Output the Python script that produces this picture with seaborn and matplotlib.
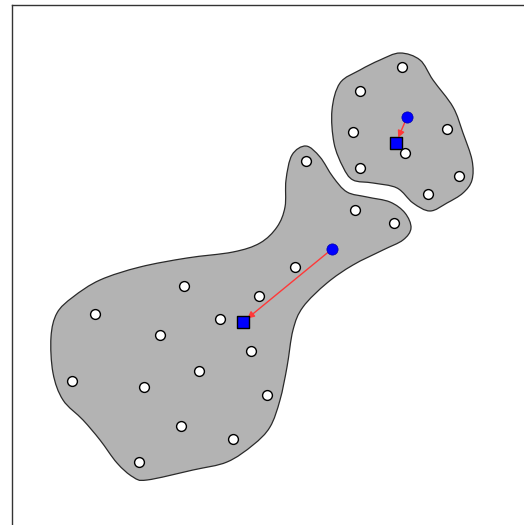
import numpy as np
import pandas as pd
import matplotlib
matplotlib.use("Agg")
import matplotlib.pyplot as plt
from matplotlib.path import Path
from matplotlib.patches import PathPatch
import seaborn as sns

# Punti bianchi (coordinate immagine, y verso il basso)
small_x = [402.3, 360.0, 352.7, 446.7, 404.7, 360.0, 459.3, 428.3]
small_y = [67.3, 90.7, 132.0, 129.3, 153.3, 168.3, 176.0, 194.3]
large_x = [306.0, 355.3, 394.3, 295.3, 183.7, 259.0, 95.3, 219.7, 160.3,
           251.3, 199.0, 71.7, 144.3, 266.7, 180.7, 233.0, 139.3]
large_y = [161.0, 210.3, 223.0, 267.0, 285.7, 295.7, 314.0, 319.3, 335.0,
           350.7, 371.0, 381.3, 387.0, 395.0, 425.7, 439.0, 462.3]

# Centri: cerchio blu (vecchio) e quadrato blu (nuovo)
old_x = [407.3, 331.7]
old_y = [116.7, 249.3]
new_x = [396.0, 243.0]
new_y = [142.7, 322.0]

# Contorni delle regioni
small_outline_x = [400, 420, 433, 453, 463, 472, 472, 463, 447, 430, 413, 397,
                   373, 353, 343, 334, 332, 340, 360, 380]
small_outline_y = [53, 60, 80, 107, 133, 160, 180, 193, 203, 211, 203, 188,
                   183, 180, 167, 143, 110, 83, 70, 60]
large_outline_x = [306, 320, 333, 347, 367, 390, 405, 411, 403, 383, 353, 327,
                   303, 293, 287, 280, 270, 253, 227, 193, 147, 133, 117, 100,
                   83, 63, 53, 51, 57, 73, 100, 140, 187, 233, 260, 277, 285,
                   286, 292]
large_outline_y = [146, 157, 177, 192, 197, 202, 213, 228, 240, 250, 265, 283,
                   307, 330, 367, 400, 427, 445, 462, 470, 480, 477, 463, 440,
                   420, 400, 373, 337, 313, 297, 280, 267, 258, 252, 243, 227,
                   207, 180, 155]


def smooth_closed_path(xs, ys):
    pts = np.column_stack([xs, ys]).astype(float)
    n = len(pts)
    verts = [pts[0]]
    codes = [Path.MOVETO]
    for i in range(n):
        p0, p1, p2, p3 = pts[i - 1], pts[i], pts[(i + 1) % n], pts[(i + 2) % n]
        verts += [p1 + (p2 - p0) / 6, p2 - (p3 - p1) / 6, p2]
        codes += [Path.CURVE4] * 3
    return Path(verts, codes)


sns.set_style("white")

fig = plt.figure(figsize=(5.24, 5.25), dpi=100)
ax = fig.add_axes([12 / 524, 1 - 540 / 525, 528 / 524, 535 / 525])
ax.set_xlim(12, 540)
ax.set_ylim(540, 5)

for ox, oy in [(small_outline_x, small_outline_y), (large_outline_x, large_outline_y)]:
    patch = PathPatch(smooth_closed_path(ox, oy), facecolor="#b3b3b3",
                      edgecolor="#2a2a2a", linewidth=0.9, zorder=1)
    ax.add_patch(patch)

white_pts = pd.DataFrame({"x": small_x + large_x, "y": small_y + large_y})
sns.scatterplot(data=white_pts, x="x", y="y", ax=ax, s=50, color="white",
                edgecolor="black", linewidth=1.0, zorder=3)

for x0, y0, x1, y1 in zip(old_x, old_y, new_x, new_y):
    ax.annotate("", xy=(x1, y1), xytext=(x0, y0),
                arrowprops=dict(arrowstyle="-|>", color="#ff3838", lw=1.0,
                                shrinkA=4, shrinkB=4, mutation_scale=10),
                zorder=4)

sns.scatterplot(x=old_x, y=old_y, ax=ax, s=65, color="#0000ff",
                edgecolor="#0000aa", linewidth=0.5, zorder=5)
sns.scatterplot(x=new_x, y=new_y, ax=ax, s=65, marker="s", color="#0000ff",
                edgecolor="black", linewidth=1.0, zorder=5)

ax.set_xticks([])
ax.set_yticks([])
ax.set_xlabel("")
ax.set_ylabel("")
for sp in ax.spines.values():
    sp.set_color("#333333")
    sp.set_linewidth(1.0)

fig.savefig("out.png", dpi=100)
plt.close(fig)
